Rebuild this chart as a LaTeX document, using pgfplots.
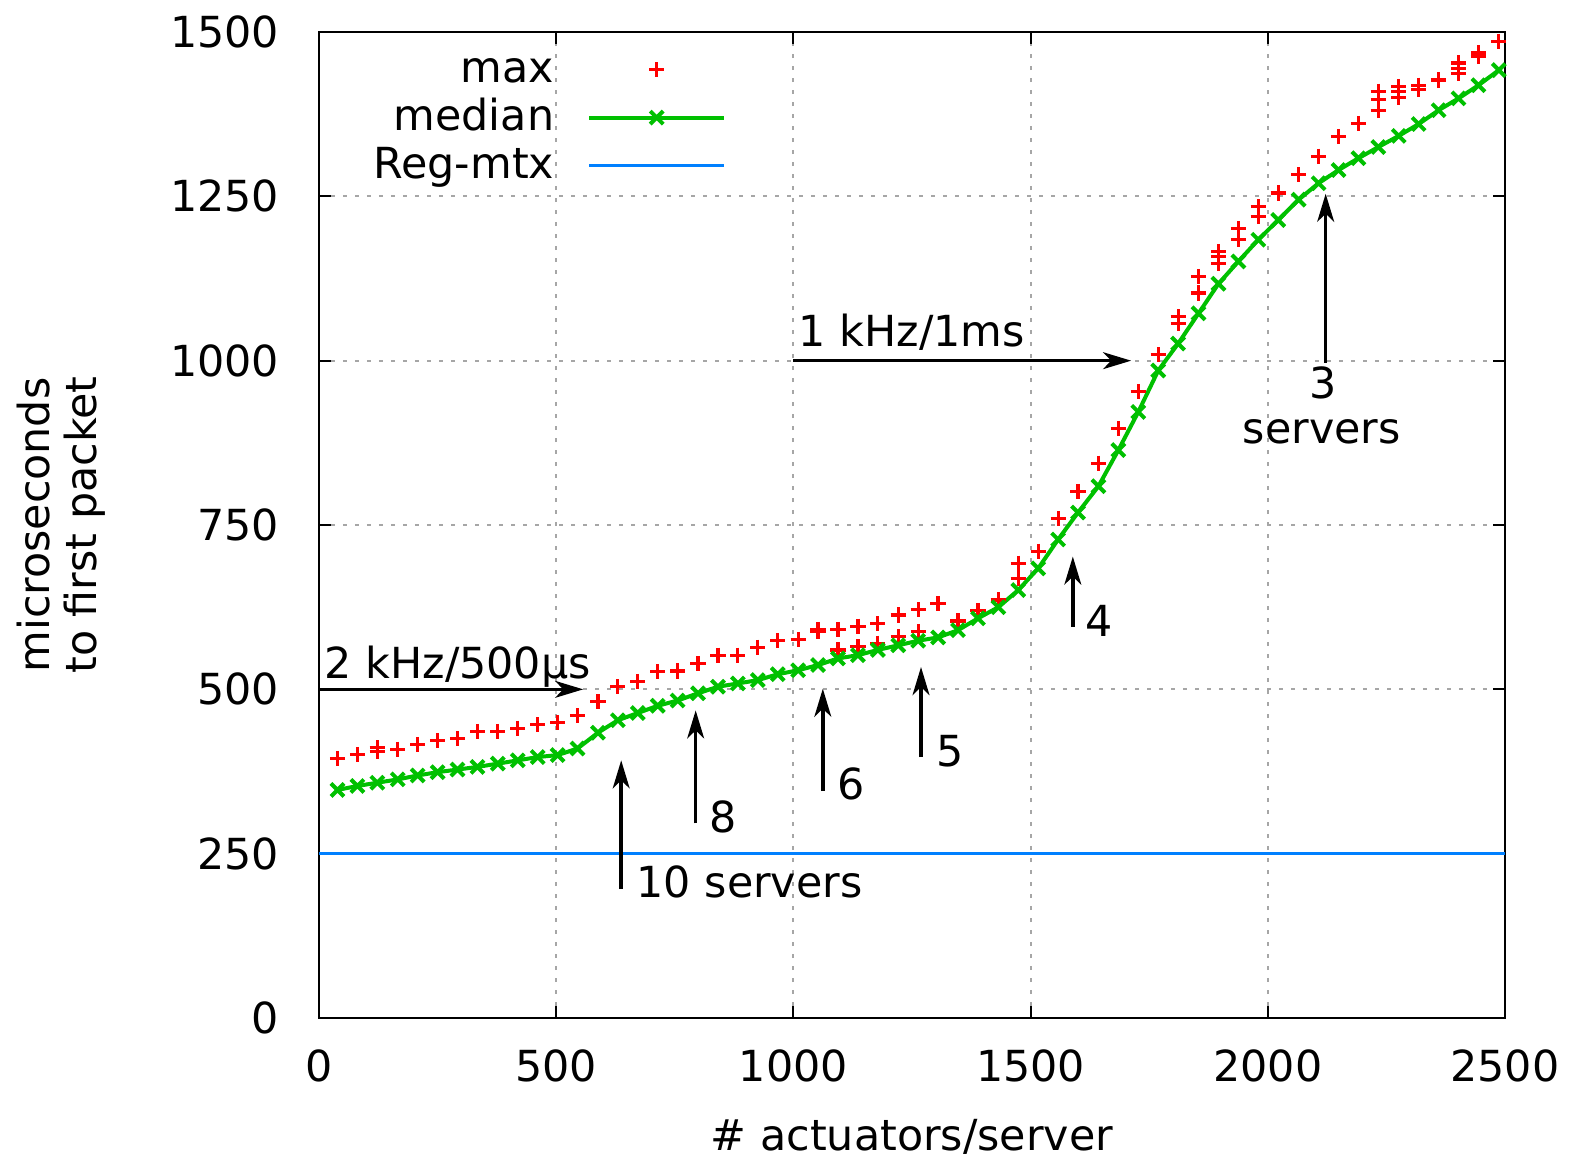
\documentclass[border=0pt]{standalone}
\usepackage{fontspec}
\setmainfont{DejaVu Sans}
\usepackage{pgfplots}
\pgfplotsset{compat=1.18}
\usetikzlibrary{arrows.meta}
\definecolor{maxred}{RGB}{255,0,0}
\definecolor{medgreen}{RGB}{0,192,0}
\definecolor{regblue}{RGB}{0,128,255}
\tikzset{annarrow/.style={-{Stealth[length=7pt,width=4.2pt,inset=2pt]}, line width=0.9pt}}
\begin{document}
\begin{tikzpicture}[font=\fontsize{10.7}{12.8}\selectfont]
\useasboundingbox (-79.75pt,-35.5pt) rectangle (313pt,254.5pt);
\begin{axis}[
 scale only axis, width=296.5pt, height=246.5pt,
 at={(0,0)}, anchor=south west,
 xmin=0, xmax=2500, ymin=0, ymax=1500,
 xtick={0,500,...,2500}, ytick={0,250,...,1500},
 /pgf/number format/assume math mode=true,
 /pgf/number format/1000 sep={},
 yticklabel style={anchor=east, inner sep=0pt, xshift=-9.75pt},
 xticklabel style={anchor=north, inner sep=0pt, yshift=-7.85pt},
 grid=major,
 major grid style={gray!70, dash pattern=on 1pt off 2pt, line width=0.5pt},
 axis line style={line width=0.6pt},
 tick style={black, line width=0.5pt},
 major tick length=3pt,
 xlabel={\# actuators/server},
 ylabel={microseconds\\to first packet},
 every axis y label/.style={at={(axis description cs:-0.2175,0.5)}, rotate=90, anchor=center, align=center, font=\fontsize{10.7}{11.75}\selectfont},
 every axis x label/.style={at={(axis description cs:0.5,-0.1207)}, anchor=center},
 legend cell align=right,
 legend plot pos=right,
 legend image code/.code={\draw[mark repeat=2,mark phase=2,#1] plot coordinates {(0pt,1.3pt) (16.875pt,1.3pt) (33.75pt,1.3pt)};},
 legend style={draw=none, fill=none, at={(axis description cs:0.3398,1)}, anchor=north east, xshift=1.25pt, yshift=-4.5pt, inner sep=0pt, column sep=8.25pt, row sep=0pt, nodes={inner sep=0pt, text height=8pt, text depth=4pt}},
]
\addplot[only marks, color=maxred, mark=+, mark size=1.9pt, mark options={line width=0.8pt}] coordinates {
(39,395) (81,401) (123,406) (123,411) (166,409) (208,416) (250,422) (292,425) (334,436) (377,436) (419,441)
(461,446) (503,449) (545,460) (588,481) (630,504) (672,512) (714,527) (756,528) (799,539) (841,552)
(883,552) (925,564) (967,574) (1010,576) (1052,588) (1052,591) (1094,591) (1094,560) (1136,596) (1136,565)
(1178,600) (1178,570) (1221,613) (1221,580) (1263,621) (1263,588) (1305,630) (1347,604) (1389,620) (1432,636)
(1474,692) (1474,669) (1516,710) (1558,760) (1600,801) (1643,844) (1685,897) (1727,953) (1769,1009)
(1811,1067) (1811,1057) (1854,1128) (1854,1103) (1896,1166) (1896,1159) (1896,1148) (1938,1201) (1938,1184)
(1980,1234) (1980,1219) (2022,1255) (2065,1283) (2107,1311) (2149,1341) (2191,1361)
(2233,1410) (2233,1397) (2233,1381) (2276,1417) (2276,1410) (2276,1400) (2318,1419) (2318,1412)
(2360,1427) (2402,1453) (2402,1445) (2402,1437) (2444,1468) (2444,1463) (2487,1486)
};
\addlegendentry{max}
\addplot[color=medgreen, line width=1pt, mark=x, mark size=2.3pt, mark options={line width=1pt}] coordinates {
(39,347) (81,353) (123,358) (166,363) (208,369) (250,374) (292,378) (334,382) (377,387) (419,392)
(461,397) (503,400) (545,410) (588,434) (630,453) (672,464) (714,475) (756,483) (799,494) (841,504)
(883,509) (925,514) (967,523) (1010,529) (1052,537) (1094,547) (1136,552) (1178,560) (1221,567) (1263,574)
(1305,579) (1347,590) (1389,608) (1432,625) (1474,651) (1516,684) (1558,728) (1600,769) (1643,809) (1685,864)
(1727,922) (1769,985) (1811,1026) (1854,1072) (1896,1117) (1938,1151) (1980,1184) (2022,1214) (2065,1245) (2107,1270)
(2149,1290) (2191,1308) (2233,1325) (2276,1342) (2318,1360) (2360,1381) (2402,1399) (2444,1419) (2487,1442)
};
\addlegendentry{median}
\addplot[color=regblue, line width=0.75pt] coordinates {(0,250) (2500,250)};
\addlegendentry{Reg-mtx}
% annotations
\draw[annarrow] (axis cs:0,500) -- (axis cs:557,500);
\node[anchor=base west, inner sep=0pt] at (axis cs:10.5,517) {2 kHz/500µs};
\draw[annarrow] (axis cs:1000,1000) -- (axis cs:1712,1000);
\node[anchor=base west, inner sep=0pt] at (axis cs:1010,1021) {1 kHz/1ms};
\draw[annarrow] (axis cs:637,196) -- (axis cs:637,392);
\node[anchor=base west, inner sep=0pt] at (axis cs:668,183) {10 servers};
\draw[annarrow] (axis cs:794,296) -- (axis cs:794,468);
\node[anchor=base west, inner sep=0pt] at (axis cs:821,282) {8};
\draw[annarrow] (axis cs:1062,345) -- (axis cs:1062,501);
\node[anchor=base west, inner sep=0pt] at (axis cs:1091,332) {6};
\draw[annarrow] (axis cs:1269,397) -- (axis cs:1269,534);
\node[anchor=base west, inner sep=0pt] at (axis cs:1300,383) {5};
\draw[annarrow] (axis cs:1589,595) -- (axis cs:1589,702);
\node[anchor=base west, inner sep=0pt] at (axis cs:1615,580) {4};
\draw[annarrow] (axis cs:2122,997) -- (axis cs:2122,1254);
\node[anchor=base, inner sep=0pt] at (axis cs:2117,943) {3};
\node[anchor=base, inner sep=0pt] at (axis cs:2114,874) {servers};
\end{axis}
\end{tikzpicture}
\end{document}
